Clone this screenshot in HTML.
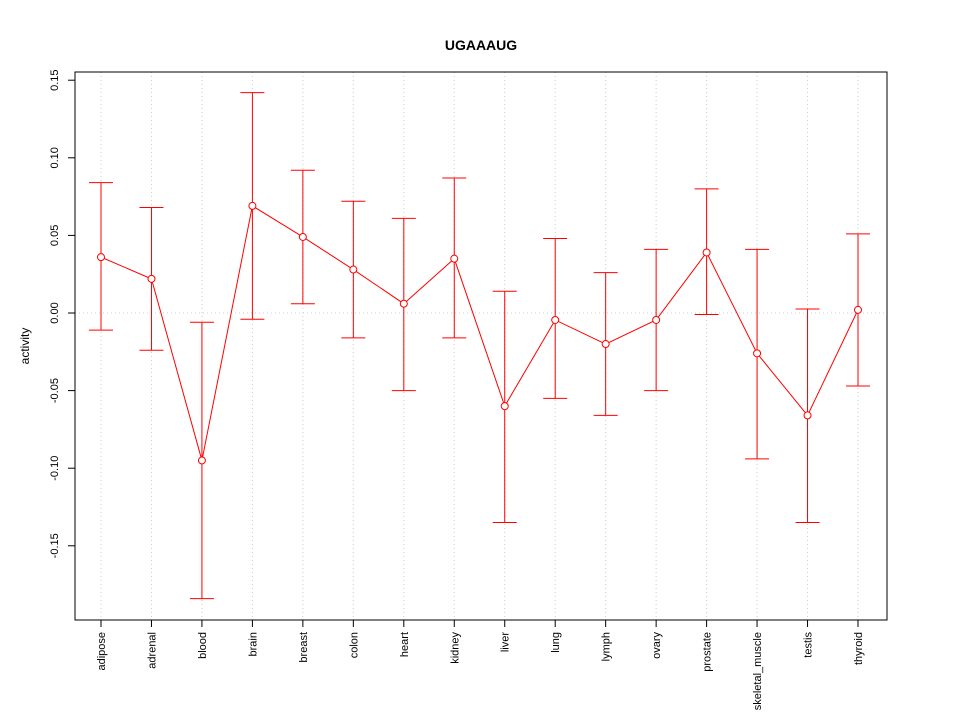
<!DOCTYPE html>
<html><head><meta charset="utf-8"><style>body{margin:0;background:#fff}svg{display:block}</style></head>
<body>
<svg id="chart" width="960" height="720" xmlns="http://www.w3.org/2000/svg" font-family="Liberation Sans, sans-serif">
<rect width="960" height="720" fill="#fff"/>
<text x="481" y="50" text-anchor="middle" font-size="14" font-weight="bold">UGAAAUG</text>
<text transform="translate(29,346) rotate(-90)" text-anchor="middle" font-size="12">activity</text>
<g id="grid"></g><g id="axes"></g><g id="marks"></g>
<rect x="75" y="72" width="812" height="548" fill="none" stroke="#000"/>
</svg>
<script>
const categories=["adipose","adrenal","blood","brain","breast","colon","heart","kidney","liver","lung","lymph","ovary","prostate","skeletal_muscle","testis","thyroid"];
const values=[0.036,0.022,-0.095,0.069,0.049,0.028,0.006,0.035,-0.060,-0.0045,-0.020,-0.0045,0.039,-0.026,-0.066,0.002];
const upper=[0.084,0.068,-0.006,0.142,0.092,0.072,0.061,0.087,0.014,0.048,0.026,0.041,0.080,0.041,0.0026,0.051];
const lower=[-0.011,-0.024,-0.184,-0.004,0.006,-0.016,-0.050,-0.016,-0.135,-0.055,-0.066,-0.050,-0.001,-0.094,-0.135,-0.047];
const yTicks=[-0.15,-0.10,-0.05,0.00,0.05,0.10,0.15];
const yTickLabels=["-0.15","-0.10","-0.05","0.00","0.05","0.10","0.15"];
const NS="http://www.w3.org/2000/svg";
const x=i=>101+i*(858-101)/(categories.length-1);
const y=v=>313-v*1552;
function mk(p,t,a){const e=document.createElementNS(NS,t);for(const k in a)e.setAttribute(k,a[k]);p.appendChild(e);return e;}
const grid=document.getElementById('grid'),axes=document.getElementById('axes'),marks=document.getElementById('marks');
categories.forEach((c,i)=>{
 const g=mk(grid,'line',{x1:x(i),x2:x(i),y1:72,y2:620,stroke:'#ccc','stroke-dasharray':'1,3'});
 
 
 const t=mk(axes,'line',{x1:x(i),x2:x(i),y1:620,y2:627,stroke:'#000'});
 
 
 const l=mk(axes,'text',{transform:`translate(${x(i)+4},632) rotate(-90)`,'text-anchor':'end','font-size':'11'});
 l.textContent=c;
 
 
});
const z=mk(grid,'line',{x1:75,x2:887,y1:y(0),y2:y(0),stroke:'#ccc','stroke-dasharray':'1,3'});


yTicks.forEach((v,i)=>{
 const t=mk(axes,'line',{x1:68,x2:75,y1:y(v),y2:y(v),stroke:'#000'});
 
 
 const l=mk(axes,'text',{transform:`translate(58,${y(v)}) rotate(-90)`,'text-anchor':'middle','font-size':'11'});
 l.textContent=yTickLabels[i];
 
 
});
const line=mk(marks,'polyline',{points:values.map((v,i)=>x(i)+','+y(v)).join(' '),fill:'none',stroke:'#f00'});


categories.forEach((c,i)=>{
 const e=mk(marks,'path',{d:`M${x(i)},${y(lower[i])}V${y(upper[i])}M${x(i)-12},${y(upper[i])}H${x(i)+12}M${x(i)-12},${y(lower[i])}H${x(i)+12}`,stroke:'#f00',fill:'none'});
 
 
 const p=mk(marks,'circle',{cx:x(i),cy:y(values[i]),r:3.5,fill:'#fff',stroke:'#f00'});
 
 
});
</script>
</body></html>
